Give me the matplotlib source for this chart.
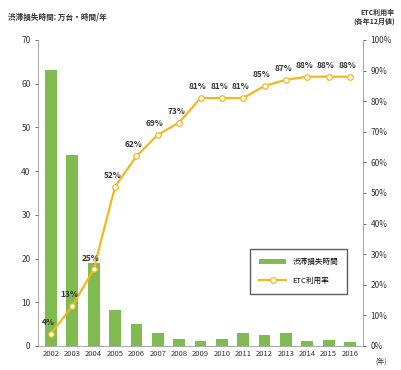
import matplotlib
matplotlib.use("Agg")
import matplotlib.pyplot as plt

plt.rcParams['font.family'] = ['Noto Sans CJK JP', 'DejaVu Sans']

years = ['2002', '2003', '2004', '2005', '2006', '2007', '2008', '2009', '2010',
         '2011', '2012', '2013', '2014', '2015', '2016']
loss_hours = [63.2, 43.6, 19.0, 8.2, 5.0, 3.0, 1.6, 1.2, 1.6, 3.0, 2.5, 3.0, 1.2, 1.4, 1.0]
etc_rate = [4, 13, 25, 52, 62, 69, 73, 81, 81, 81, 85, 87, 88, 88, 88]

bar_color = '#80bb50'
line_color = '#f2b81f'
text_color = '#333333'

fig = plt.figure(figsize=(4.01, 3.70), dpi=100)
ax = fig.add_axes([0.095, 0.065, 0.81, 0.827])
x = list(range(len(years)))
b = ax.bar(x, loss_hours, width=0.55, color=bar_color, label='渋滞損失時間', zorder=2)
ax.set_ylim(0, 70)
ax.set_xlim(-0.6, len(years) - 0.4)
ax.set_yticks(range(0, 71, 10))
ax.set_xticks(x)
ax.set_xticklabels(years, fontsize=5.5, color=text_color)
ax.tick_params(axis='y', labelsize=6, colors=text_color, length=2, width=0.5)
ax.tick_params(axis='x', length=0, pad=3)
for s in ['top', 'right']:
    ax.spines[s].set_visible(False)
for s in ['left', 'bottom']:
    ax.spines[s].set_color('#999999')
    ax.spines[s].set_linewidth(0.6)

ax2 = ax.twinx()
ln, = ax2.plot(x, etc_rate, color=line_color, lw=1.6, marker='o', ms=4,
               mfc='white', mec=line_color, mew=0.9, label='ETC利用率', zorder=3)
ax2.set_ylim(0, 100)
ax2.set_yticks(range(0, 101, 10))
ax2.set_yticklabels([f'{v}%' for v in range(0, 101, 10)])
ax2.tick_params(axis='y', labelsize=6, colors=text_color, length=2, width=0.5)
for s in ['top', 'left', 'bottom']:
    ax2.spines[s].set_visible(False)
ax2.spines['right'].set_color('#999999')
ax2.spines['right'].set_linewidth(0.6)

for xi, v in zip(x, etc_rate):
    ax2.annotate(f'{v}%', (xi, v), xytext=(-2, 5), textcoords='offset points',
                 ha='center', va='bottom', fontsize=6, color=text_color,
                 fontweight='bold')

fig.text(0.02, 0.955, '渋滞損失時間: 万台・時間/年', fontsize=5.5, color=text_color,
         ha='left', va='center', fontweight='bold')
fig.text(0.985, 0.955, 'ETC利用率\n(各年12月値)', fontsize=5, color=text_color,
         ha='right', va='center', linespacing=1.3, fontweight='bold')
fig.text(0.965, 0.012, '(年)', fontsize=5, color=text_color, ha='right', va='bottom')

leg = fig.legend(handles=[b, ln], labels=['渋滞損失時間', 'ETC利用率'],
                 loc='center', bbox_to_anchor=(0.745, 0.267), fontsize=5.5,
                 frameon=True, fancybox=False, edgecolor='#333333',
                 handlelength=3.5, borderpad=1.2, labelspacing=1.4)
leg.get_frame().set_linewidth(1.0)
leg.get_frame().set_boxstyle('square', pad=0)

fig.savefig('out.png', dpi=100, facecolor='white')
